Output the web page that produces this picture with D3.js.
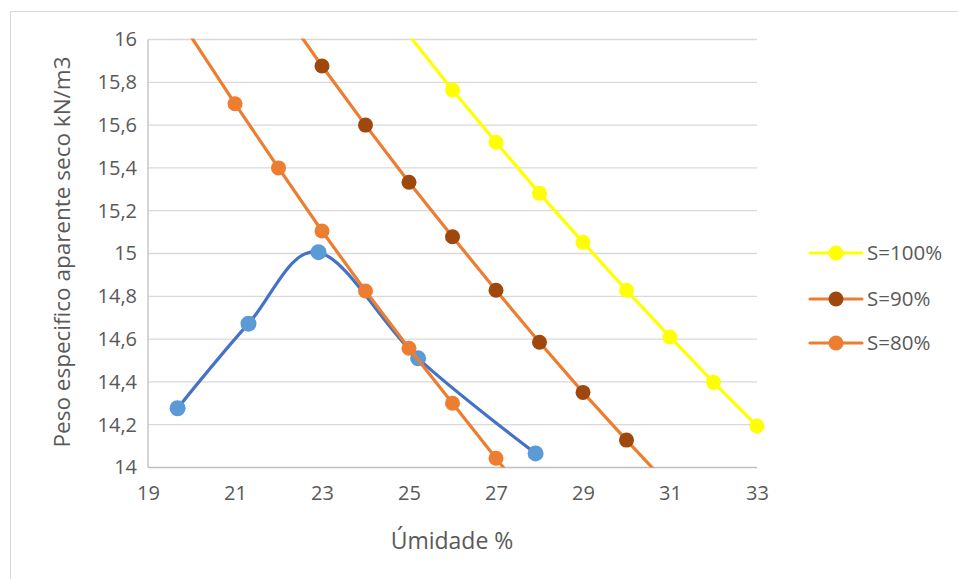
<!DOCTYPE html>
<html>
<head>
<meta charset="utf-8">
<script src="https://cdn.jsdelivr.net/npm/d3@7"></script>
<style>
  html, body { margin: 0; padding: 0; background: #ffffff; }
  svg { display: block; }
  text { font-family: "Open Sans", "DejaVu Sans", sans-serif; fill: #595959; }
</style>
</head>
<body>
<svg id="chart" width="958" height="579"></svg>
<script>
// ---- data ----
const moisture = [19.68, 21.31, 22.92, 25.21, 27.91];
const density  = [14.277, 14.672, 15.006, 14.510, 14.066];

const w100 = [25, 26, 27, 28, 29, 30, 31, 32, 33];
const s100 = [16.02, 15.764, 15.52, 15.281, 15.052, 14.828, 14.61, 14.398, 14.194];

const w90 = [22, 23, 24, 25, 26, 27, 28, 29, 30, 31];
const s90 = [16.165, 15.876, 15.60, 15.333, 15.078, 14.828, 14.585, 14.351, 14.128, 13.91];

const w80 = [20, 21, 22, 23, 24, 25, 26, 27, 28];
const s80 = [16.01, 15.70, 15.40, 15.105, 14.825, 14.557, 14.30, 14.043, 13.79];

const xTicks = [19, 21, 23, 25, 27, 29, 31, 33];
const yTicks = [14, 14.2, 14.4, 14.6, 14.8, 15, 15.2, 15.4, 15.6, 15.8, 16];

const seriesNames = ["S=100%", "S=90%", "S=80%"];

// ---- layout ----
const svg = d3.select("#chart");
const pLeft = 148, pRight = 757, pTop = 39.5, pBottom = 467.5;

const x = d3.scaleLinear().domain([19, 33]).range([pLeft, pRight]);
const y = d3.scaleLinear().domain([14, 16]).range([pBottom, pTop]);

// chart border
svg.append("rect").attr("x", 10.5).attr("y", 11.5).attr("width", 1000).attr("height", 1000)
  .attr("fill", "none").attr("stroke", "#D9D9D9").attr("stroke-width", 1);

// gridlines
svg.append("g").selectAll("line").data(yTicks.slice(1)).join("line")
  .attr("x1", pLeft).attr("x2", pRight)
  .attr("y1", d => y(d)).attr("y2", d => y(d))
  .attr("stroke", "#D9D9D9").attr("stroke-width", 1.3);

// axes lines
svg.append("line").attr("x1", pLeft).attr("x2", pLeft).attr("y1", pTop).attr("y2", pBottom)
  .attr("stroke", "#BFBFBF").attr("stroke-width", 1.3);
svg.append("line").attr("x1", pLeft).attr("x2", pRight).attr("y1", pBottom).attr("y2", pBottom)
  .attr("stroke", "#BFBFBF").attr("stroke-width", 1.3);

// axes via d3 (labels only)
const fmt = d => String(+d.toFixed(1)).replace(".", ",");
const yAxis = svg.append("g").attr("transform", `translate(${pLeft - 8},0)`)
  .call(d3.axisLeft(y).tickValues(yTicks).tickFormat(fmt).tickSize(0).tickPadding(3));
yAxis.select(".domain").remove();
yAxis.selectAll("text").attr("font-size", 20).attr("fill", "#595959")
  .style("font-family", '"Open Sans", sans-serif');

const xAxis = svg.append("g").attr("transform", `translate(0,${pBottom + 15})`)
  .call(d3.axisBottom(x).tickValues(xTicks).tickFormat(d => d).tickSize(0).tickPadding(3));
xAxis.select(".domain").remove();
xAxis.selectAll("text").attr("font-size", 20).attr("fill", "#595959")
  .style("font-family", '"Open Sans", sans-serif');

// axis titles
svg.append("text").attr("x", 452).attr("y", 549).attr("text-anchor", "middle")
  .attr("font-size", 23).text("Úmidade %");
svg.append("text").attr("transform", "translate(70,252) rotate(-90)").attr("text-anchor", "middle")
  .attr("font-size", 22.5).text("Peso especifico aparente seco kN/m3");

// clip
svg.append("clipPath").attr("id", "plotclip").append("rect")
  .attr("x", pLeft).attr("y", pTop - 1).attr("width", pRight - pLeft + 10).attr("height", pBottom - pTop + 1);

const plot = svg.append("g").attr("clip-path", "url(#plotclip)");

const line = d3.line().x(d => x(d[0])).y(d => y(d[1]));
const smooth = d3.line().x(d => x(d[0])).y(d => y(d[1])).curve(d3.curveCardinal.tension(0));

const inRange = d => d[1] >= 14 - 1e-9 && d[1] <= 16 + 1e-9;

function drawSeries(ws, vs, lineColor, markerColor, gen, r) {
  const pts = ws.map((w, i) => [w, vs[i]]);
  plot.append("path").datum(pts).attr("d", gen)
    .attr("fill", "none").attr("stroke", lineColor).attr("stroke-width", 3.2)
    .attr("stroke-linejoin", "round").attr("stroke-linecap", "round");
  plot.append("g").selectAll("circle").data(pts.filter(inRange)).join("circle")
    .attr("cx", d => x(d[0])).attr("cy", d => y(d[1])).attr("r", r)
    .attr("fill", markerColor);
}

drawSeries(moisture, density, "#4472C4", "#5B9BD5", smooth, 8);
drawSeries(w100, s100, "#FFFF00", "#FFFF00", line, 7.5);
drawSeries(w90, s90, "#ED7D31", "#9E480E", line, 7.5);
drawSeries(w80, s80, "#ED7D31", "#ED7D31", line, 7.5);

// legend
const legend = [
  { name: seriesNames[0], line: "#FFFF00", marker: "#FFFF00", cy: 253 },
  { name: seriesNames[1], line: "#ED7D31", marker: "#9E480E", cy: 299 },
  { name: seriesNames[2], line: "#ED7D31", marker: "#ED7D31", cy: 343 }
];
const lg = svg.append("g").selectAll("g").data(legend).join("g");
lg.append("line").attr("x1", 810).attr("x2", 862).attr("y1", d => d.cy).attr("y2", d => d.cy)
  .attr("stroke", d => d.line).attr("stroke-width", 3.2).attr("stroke-linecap", "round");
lg.append("circle").attr("cx", 836).attr("cy", d => d.cy).attr("r", 7.5).attr("fill", d => d.marker);
lg.append("text").attr("x", 867).attr("y", d => d.cy).attr("dy", "0.36em")
  .attr("font-size", 20.5).text(d => d.name);
</script>
</body>
</html>
